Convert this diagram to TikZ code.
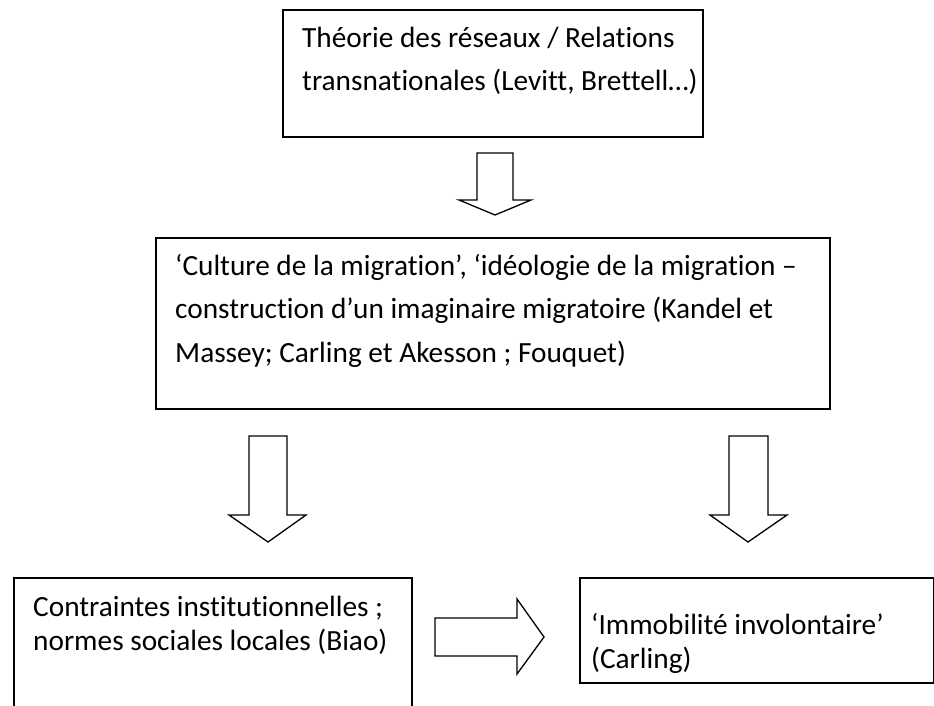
\documentclass[tikz,border=0pt]{standalone}
\usepackage{fontspec}
\setmainfont{Carlito}[Ligatures=NoCommon]
\usetikzlibrary{calc}
\begin{document}
\begin{tikzpicture}[x=1pt,y=-1pt,
  box/.style={draw=black,line width=1.6pt,inner sep=0pt,anchor=north west},
  txt/.style={inner sep=0pt,anchor=base west,font=\fontsize{29.3}{43.5}\selectfont},
  blockarrow/.style={draw=black,line width=1.3pt,fill=white,line join=miter}]
\useasboundingbox (0,0) rectangle (934,705);
% boxes
\node[box,minimum width=420pt,minimum height=127pt] (top) at (282,9) {};
\node[box,minimum width=674pt,minimum height=171pt] (mid) at (155,237) {};
\node[box,minimum width=398pt,minimum height=150pt] (left) at (13,577) {};
\node[box,minimum width=354pt,minimum height=105pt] (right) at (579,577) {};
% texts
\node[txt] (t1) at ($(top.north west)+(20,38)$) {Théorie des réseaux / Relations};
\node[txt] (t2) at ($(t1.base west)+(0,43.5)$) {transnationales (Levitt, Brettell…)};
\node[txt] (m1) at ($(mid.north west)+(20,38)$) {‘Culture de la migration’, ‘idéologie de la migration –};
\node[txt] (m2) at ($(m1.base west)+(0,43.5)$) {construction d’un imaginaire migratoire (Kandel et};
\node[txt] (m3) at ($(m2.base west)+(0,43.5)$) {Massey; Carling et Akesson ; Fouquet)};
\node[txt] (l1) at ($(left.north west)+(20,39)$) {Contraintes institutionnelles ;};
\node[txt] (l2) at ($(l1.base west)+(0,34)$) {normes sociales locales (Biao)};
\node[txt] (r1) at ($(right.north west)+(12,57)$) {‘Immobilité involontaire’};
\node[txt] (r2) at ($(r1.base west)+(0,34)$) {(Carling)};
% block arrows
\draw[blockarrow] (477,153) -- (513,153) -- (513,200) -- (531,200) -- (495,215) -- (459,200) -- (477,200) -- cycle;
\draw[blockarrow] (249,436) -- (287,436) -- (287,515) -- (306,515) -- (268,542) -- (229,515) -- (249,515) -- cycle;
\draw[blockarrow] (729,436) -- (768,436) -- (768,515) -- (787,515) -- (748,542) -- (710,515) -- (729,515) -- cycle;
\draw[blockarrow] (435,618) -- (517,618) -- (517,599) -- (544,637) -- (517,674) -- (517,656) -- (435,656) -- cycle;
\end{tikzpicture}
\end{document}
